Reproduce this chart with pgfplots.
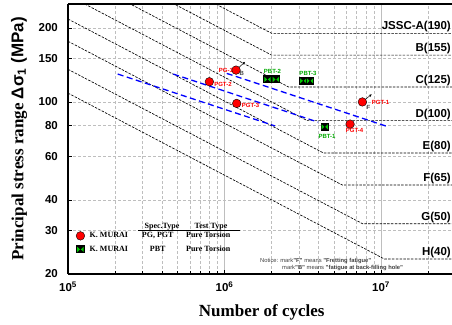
\documentclass[border=0pt]{standalone}
\usepackage{pgfplots}
\pgfplotsset{compat=1.18}
\usepackage{fontspec}
\setmainfont{Liberation Serif}
\setsansfont{Liberation Sans}
\usetikzlibrary{arrows.meta}

\definecolor{pbtgreen}{RGB}{0,200,0}
\definecolor{fitblue}{RGB}{0,0,255}
\definecolor{gridgray}{RGB}{190,190,190}

\newcommand{\tickfont}{\sffamily\bfseries\fontsize{11.5}{13}\selectfont}
\newcommand{\ptfont}{\sffamily\bfseries\fontsize{6}{7}\selectfont}

% black square with two inward-pointing green triangles
\pgfdeclareplotmark{bowsq}{%
  \pgfpathrectangle{\pgfpoint{-4.2pt}{-4pt}}{\pgfpoint{8.4pt}{8pt}}%
  \pgfsetfillcolor{black}\pgfusepath{fill}%
  \pgfsetfillcolor{pbtgreen}%
  \pgfpathmoveto{\pgfpoint{-3.2pt}{-2.6pt}}\pgfpathlineto{\pgfpoint{-0.4pt}{0pt}}\pgfpathlineto{\pgfpoint{-3.2pt}{2.6pt}}\pgfpathclose
  \pgfpathmoveto{\pgfpoint{3.2pt}{-2.6pt}}\pgfpathlineto{\pgfpoint{0.4pt}{0pt}}\pgfpathlineto{\pgfpoint{3.2pt}{2.6pt}}\pgfpathclose
  \pgfusepath{fill}}

\pgfplotsset{
  jssc slope/.style={black, line width=0.65pt, dash pattern=on 2.5pt off 1.3pt, forget plot},
  fit line/.style={fitblue, line width=1.3pt, dash pattern=on 6pt off 3.5pt, forget plot},
}

\begin{document}
\begin{tikzpicture}
\begin{axis}[
  name=ax,
  xmode=log, ymode=log,
  scale only axis, width=387.7pt, height=270pt,
  xmin=1e5, xmax=3e7, ymin=20, ymax=250,
  axis x line*=box, axis y line*=left,
  axis line style={line width=1.6pt},
  xtick={1e5,1e6,1e7},
  xticklabels={10\textsuperscript{5},10\textsuperscript{6},10\textsuperscript{7}},
  minor xtick={2e5,3e5,4e5,5e5,6e5,7e5,8e5,9e5,2e6,3e6,4e6,5e6,6e6,7e6,8e6,9e6,2e7,3e7},
  ytick={20,30,40,60,80,150,200},
  yticklabels={20,30,40,60,80,150,200},
  extra y ticks={100}, extra y tick labels={100},
  extra y tick style={major grid style={solid, gridgray, line width=0.6pt}},
  xtick pos=bottom,
  tick align=inside,
  major tick length=4pt, minor tick length=2.5pt,
  tick style={black, line width=0.6pt},
  xmajorgrids, xminorgrids, ymajorgrids,
  major x grid style={solid, gridgray, line width=0.6pt},
  minor x grid style={gridgray, line width=0.6pt, dash pattern=on 3pt off 2pt},
  major y grid style={gridgray, line width=0.6pt, dash pattern=on 3pt off 2pt},
  xticklabel style={font=\tickfont, anchor=base, yshift=-17.7pt, inner sep=0pt},
  yticklabel style={font=\tickfont, anchor=east, inner sep=0pt, xshift=-10pt},
  xlabel={Number of cycles},
  xlabel style={font=\bfseries\fontsize{17}{20}\selectfont, at={(axis description cs:0.4996,-0.158)}, anchor=base},
  ylabel={Principal stress range {\sffamily Δσ\textsubscript{1} (MPa)}},
  ylabel style={font=\bfseries\fontsize{17}{20}\selectfont, at={(axis description cs:-0.1264,0.5)}, anchor=center},
  legend image code/.code={\draw[#1] plot coordinates {(0pt,0pt)};},
  legend style={draw=none, fill=none, inner sep=0pt, outer sep=0pt,
    at={(axis description cs:0.021,0.158)}, anchor=north west,
    font=\bfseries\fontsize{8}{9}\selectfont, row sep=4.5pt, column sep=4pt,
    nodes={inner sep=1pt}},
  legend cell align=left,
  clip=true,
]

% JSSC design curves (m = 3, cut off at the constant-amplitude limit)
\addplot[jssc slope] coordinates {(1e5,515.7) (2e6,190) (3e7,190)};
\addplot[jssc slope] coordinates {(1e5,420.7) (2e6,155) (3e7,155)};
\addplot[jssc slope] coordinates {(1e5,339.3) (2.568e6,115) (3e7,115)};
\addplot[jssc slope] coordinates {(1e5,271.4) (3.374e6,84) (3e7,84)};
\addplot[jssc slope] coordinates {(1e5,217.2) (4.297e6,62) (3e7,62)};
\addplot[jssc slope] coordinates {(1e5,176.4) (5.643e6,46) (3e7,46)};
\addplot[jssc slope] coordinates {(1e5,135.7) (7.629e6,32) (3e7,32)};
\addplot[jssc slope] coordinates {(1e5,108.6) (1.052e7,23) (3e7,23)};

% class labels
\begin{scope}[every node/.style={anchor=base east, inner sep=0pt, font=\tickfont}]
\node[yshift=3.5pt] at (axis cs:2.8e7,190) {JSSC-A(190)};
\node[yshift=3.5pt] at (axis cs:2.8e7,155) {B(155)};
\node[yshift=3.5pt] at (axis cs:2.8e7,115) {C(125)};
\node[yshift=3.5pt] at (axis cs:2.8e7,84) {D(100)};
\node[yshift=3.5pt] at (axis cs:2.8e7,62) {E(80)};
\node[yshift=3.5pt] at (axis cs:2.8e7,46) {F(65)};
\node[yshift=3.5pt] at (axis cs:2.8e7,32) {G(50)};
\node[yshift=3.5pt] at (axis cs:2.8e7,23) {H(40)};
\end{scope}

% fitted S-N lines
\addplot[fit line] coordinates {(2.078e5,129.8) (2.102e6,79.9)};
\addplot[fit line] coordinates {(4.71e5,129.8) (3.96e6,82.8)};
\addplot[fit line] coordinates {(1.033e6,130.6) (1.076e7,79.8)};

% specimen labels
\begin{scope}[every node/.style={inner sep=0pt, font=\ptfont}]
\node[red, anchor=east, xshift=-3pt] at (axis cs:1.185e6,134.7) {PG-1};
\node[red, anchor=west, xshift=4.7pt, yshift=-2.6pt] at (axis cs:8.0e5,120.8) {PGT-2};
\node[red, anchor=west, xshift=5pt, yshift=-2.4pt] at (axis cs:1.196e6,98.6) {PGT-3};
\node[red, anchor=west, xshift=9.4pt] at (axis cs:7.6e6,100) {PGT-1};
\node[red, anchor=north, xshift=4.5pt, yshift=-4pt] at (axis cs:6.34e6,81.3) {PGT-4};
\node[pbtgreen!85!black, anchor=south, xshift=0.8pt, yshift=6pt] at (axis cs:2.0e6,123.4) {PBT-2};
\node[pbtgreen!85!black, anchor=south, xshift=1.3pt, yshift=5.2pt] at (axis cs:3.35e6,121.8) {PBT-3};
\node[pbtgreen!85!black, anchor=north, xshift=2.3pt, yshift=-7pt] at (axis cs:4.37e6,79.2) {PBT-1};
\node[black!70, anchor=center, xshift=5.7pt, yshift=-3.3pt] at (axis cs:1.185e6,134.7) {B};
\node[black!70, anchor=center, xshift=6pt, yshift=-5.6pt] at (axis cs:7.6e6,100) {F};
\end{scope}

% test data
\addplot[only marks, mark=*, mark size=4.3pt, mark options={fill=red, draw=black, line width=0.4pt}]
  coordinates {(1.185e6,134.7) (8.0e5,120.8) (1.196e6,98.6) (7.6e6,100) (6.34e6,81.3)};
\addlegendentry{\makebox[48pt][l]{K. MURAI}\makebox[40pt][c]{PG, PGT}\makebox[61pt][c]{Pure Torsion}}
\addplot[only marks, mark=bowsq]
  coordinates {(1.883e6,123.4) (2.13e6,123.4) (3.188e6,121.8) (3.518e6,121.8) (4.37e6,79.2)};
\addlegendentry{\makebox[48pt][l]{K. MURAI}\makebox[40pt][c]{PBT}\makebox[61pt][c]{Pure Torsion}}

% run-out arrows
\draw[-{Stealth[length=3pt,width=2.5pt]}, black, line width=0.5pt] (axis cs:1.185e6,134.7) -- ++(9pt,8.3pt);
\draw[-{Stealth[length=3pt,width=2.5pt]}, black, line width=0.5pt] (axis cs:7.6e6,100) -- ++(9.3pt,7.7pt);

% legend header
\node[anchor=base, inner sep=0pt, font=\bfseries\fontsize{8}{9}\selectfont, yshift=2pt] at (axis cs:3.99e5,30) {Spec.Type};
\node[anchor=base, inner sep=0pt, font=\bfseries\fontsize{8}{9}\selectfont, yshift=2pt] at (axis cs:8.2e5,30) {Test Type};
\draw[black, line width=0.6pt] (axis cs:2.8e5,30) -- (axis cs:1.256e6,30);

% notice
\node[anchor=west, inner sep=0pt, font=\sffamily\fontsize{5.8}{6.5}\selectfont, black!75] at (axis description cs:0.4952,0.0481)
  {Notice: mark\textbf{"F"} means \textbf{"Fretting fatigue"}};
\node[anchor=west, inner sep=0pt, font=\sffamily\fontsize{5.8}{6.5}\selectfont, black!75] at (axis description cs:0.552,0.0222)
  {mark\textbf{"B"} means \textbf{"fatigue at back-filling hole"}};
\end{axis}
\pgfresetboundingbox
\useasboundingbox ([shift={(-68pt,-50pt)}]ax.south west) rectangle ([shift={(384pt,274pt)}]ax.south west);
\end{tikzpicture}
\end{document}
